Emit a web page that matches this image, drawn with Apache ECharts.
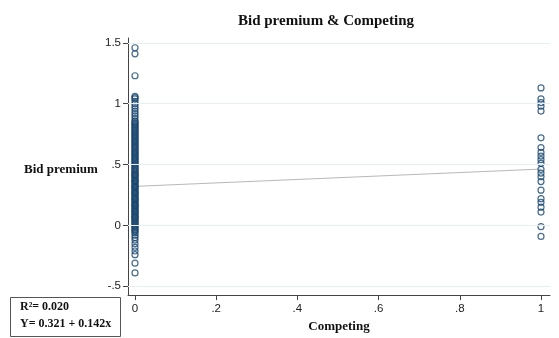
<!DOCTYPE html>
<html>
<head>
<meta charset="utf-8">
<script src="https://cdn.jsdelivr.net/npm/echarts@6/dist/echarts.min.js"></script>
<style>html,body{margin:0;padding:0;background:#fff;}#c{width:559px;height:338px;}</style>
</head>
<body>
<div id="c"></div>
<script>
const titleText = 'Bid premium & Competing';
const xName = 'Competing';
const yName = 'Bid premium';
const xTickValues = [0, 0.2, 0.4, 0.6, 0.8, 1];
const xTickLabels = ['0', '.2', '.4', '.6', '.8', '1'];
const yTickValues = [-0.5, 0, 0.5, 1, 1.5];
const yTickLabels = ['-.5', '0', '.5', '1', '1.5'];
const fitIntercept = 0.321;
const fitSlope = 0.142;
const r2Text = 'R\u00b2= 0.020';
const eqText = 'Y= 0.321 + 0.142x';

// Bid premium values for Competing = 0
const competing0Values = [
  1.46, 1.41, 1.23, 1.06, 1.05, 1.04, 1.02, 1.00, 0.98, 0.96, 0.94, 0.92, 0.90, 0.88, 0.86,
  0.84, 0.82, 0.80, 0.78, 0.76, 0.74, 0.72, 0.70, 0.68, 0.66, 0.64, 0.62, 0.60, 0.58, 0.56,
  0.54, 0.52, 0.50, 0.48, 0.46, 0.44, 0.42, 0.40, 0.38, 0.36, 0.34, 0.32, 0.30, 0.28, 0.26,
  0.24, 0.22, 0.20, 0.18, 0.16, 0.14, 0.12, 0.10, 0.08, 0.06, 0.04, 0.02, 0.00, -0.02, -0.04,
  -0.06, 0.45, 0.41, 0.37, 0.33, 0.29, 0.25, 0.21, 0.17, 0.13, 0.35, 0.31, 0.27, 0.23, 0.19,
  0.15, 0.11, 0.09, 0.07, 0.05, 0.03, 0.01, 0.39, 0.43, 0.47, 0.51, 0.55, 0.59, 0.63, 0.67,
  0.85, 0.83, 0.81, 0.79, 0.77, 0.75, 0.73, 0.71, 0.69, 0.65, 0.61, 0.57, 0.53, 0.49,
  -0.01, -0.03, -0.05, 0.315, 0.265, 0.215, 0.165, 0.365, 0.415, 0.115, 0.065,
  -0.08, -0.10, -0.12, -0.15, -0.18, -0.21, -0.24, -0.31, -0.39
];
// Bid premium values for Competing = 1
const competing1Values = [
  1.13, 1.04, 1.01, 0.98, 0.94, 0.72, 0.64, 0.60, 0.57, 0.54, 0.51, 0.46, 0.43, 0.40, 0.36,
  0.29, 0.22, 0.19, 0.15, 0.11, -0.01, -0.09
];

const data0 = competing0Values.map(v => [0, v]);
const data1 = competing1Values.map(v => [1, v]);
const fitData = [0, 1].map(x => [x, fitIntercept + fitSlope * x]);

const serif = '"Liberation Serif", "DejaVu Serif", serif';
const sans = '"Liberation Sans", Arial, sans-serif';
const navy = '#1a476f';

const chart = echarts.init(document.getElementById('c'), null, {renderer: 'canvas'});
chart.setOption({
  animation: false,
  backgroundColor: '#fff',
  title: {
    text: titleText, left: 321, top: 9, textAlign: 'center',
    textStyle: {fontFamily: serif, fontWeight: 'bold', fontSize: 15, color: '#111'}
  },
  grid: {left: 128, top: 38, width: 422, height: 262, containLabel: false},
  xAxis: {
    type: 'value', min: -7/406, max: 415/406,
    name: xName, nameLocation: 'middle', nameGap: 24,
    nameTextStyle: {fontFamily: serif, fontWeight: 'bold', fontSize: 13, color: '#111'},
    axisLine: {show: true, onZero: false, lineStyle: {color: '#444', width: 1}},
    axisTick: {show: true, length: 5, customValues: xTickValues, lineStyle: {color: '#444'}},
    axisLabel: {
      customValues: xTickValues, margin: 8,
      fontFamily: sans, fontSize: 11.5, color: '#222',
      formatter: v => { const i = xTickValues.findIndex(t => Math.abs(t - v) < 1e-9); return i >= 0 ? xTickLabels[i] : ''; }
    },
    splitLine: {show: false}
  },
  yAxis: {
    type: 'value', min: -0.5 - 9/124, max: 1.5 + 5/124,
    axisLine: {show: true, onZero: false, lineStyle: {color: '#444', width: 1}},
    axisTick: {show: true, length: 5, customValues: yTickValues, lineStyle: {color: '#444'}},
    axisLabel: {
      customValues: yTickValues, margin: 7,
      fontFamily: sans, fontSize: 11.5, color: '#222',
      formatter: v => { const i = yTickValues.findIndex(t => Math.abs(t - v) < 1e-9); return i >= 0 ? yTickLabels[i] : ''; }
    },
    splitLine: {show: false}
  },
  graphic: [
    {type: 'text', left: 24, top: 163, style: {text: yName, font: 'bold 13px ' + serif, fill: '#111'}},
    {type: 'rect', left: 10, top: 297, shape: {width: 110, height: 39}, style: {fill: '#fff', stroke: '#555', lineWidth: 1}},
    {type: 'text', left: 20, top: 301, style: {text: r2Text, font: 'bold 12px ' + serif, fill: '#111'}},
    {type: 'text', left: 20, top: 318, style: {text: eqText, font: 'bold 12px ' + serif, fill: '#111'}}
  ],
  series: [
    {
      type: 'line', data: fitData, symbol: 'none', silent: true, z: 1,
      lineStyle: {color: '#b8b8b8', width: 1},
      markLine: {
        silent: true, symbol: 'none', label: {show: false},
        lineStyle: {color: '#e6eff1', width: 1, type: 'solid'},
        data: yTickValues.map(v => ({yAxis: v}))
      }
    },
    {
      type: 'scatter', data: data0, symbol: 'circle', symbolSize: 6, z: 3,
      itemStyle: {color: 'rgba(0,0,0,0)', borderColor: navy, borderWidth: 1.2}
    },
    {
      type: 'scatter', data: data1, symbol: 'circle', symbolSize: 6, z: 3,
      itemStyle: {color: 'rgba(0,0,0,0)', borderColor: navy, borderWidth: 1.2}
    }
  ]
});
</script>
</body>
</html>
